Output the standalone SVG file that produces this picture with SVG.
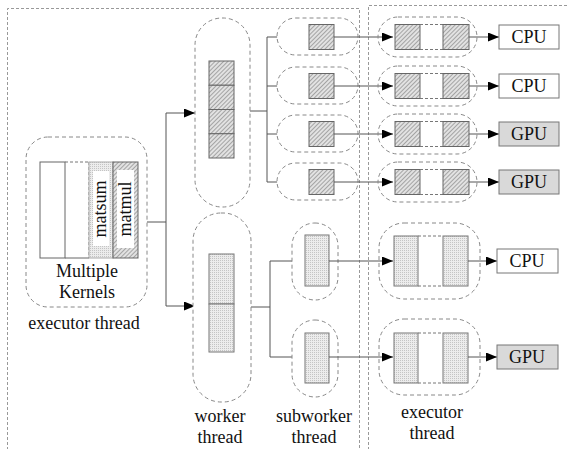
<svg xmlns="http://www.w3.org/2000/svg" width="568" height="449" viewBox="0 0 568 449">
<style>
.frame{fill:none;stroke:#999;stroke-width:1;stroke-dasharray:3,2}
.pill{fill:#fff;stroke:#888;stroke-width:1;stroke-dasharray:4,3}
.hatch{fill:url(#hatch);stroke:#666;stroke-width:1}
.dot{fill:url(#dots);stroke:#777;stroke-width:1}
.plain{fill:#fff;stroke:#666;stroke-width:1}
.dash{fill:none;stroke:#777;stroke-width:1;stroke-dasharray:3,2}
.conn{fill:none;stroke:#555;stroke-width:1}
.arr{marker-end:url(#ah)}
.dev{fill:#fff;stroke:#777;stroke-width:1}
.gpu{fill:#d9d9d9;stroke:#777;stroke-width:1}
text{font-family:'Liberation Serif','DejaVu Serif',serif;font-size:18px;fill:#111}
.c{text-anchor:middle}
</style>
<defs>
<pattern id="hatch" patternUnits="userSpaceOnUse" width="3" height="3" patternTransform="rotate(45)">
<rect width="3" height="3" fill="#e2e2e2"/>
<line x1="0" y1="0" x2="0" y2="3" stroke="#7a7a7a" stroke-width="1.2"/>
</pattern>
<pattern id="dots" patternUnits="userSpaceOnUse" width="2" height="2">
<rect width="2" height="2" fill="#ececec"/>
<rect width="1" height="1" fill="#c4c4c4"/>
</pattern>
<marker id="ah" markerUnits="userSpaceOnUse" markerWidth="12" markerHeight="10" refX="11" refY="4.5" orient="auto">
<path d="M0,0 L11,4.5 L0,9 z" fill="#000"/>
</marker>
</defs>

<g id="frames">
<path class="frame" d="M7.5,460 V8.5 H359.5 V460"/>
<path class="frame" d="M368.5,460 V5.5 H580"/>
</g>

<g id="connectors">
<path class="conn" d="M147,222 H166 M166,113 V306"/>
<path class="conn arr" d="M166,113 H195"/>
<path class="conn arr" d="M166,306 H195"/>
<path class="conn" d="M250,111 H267 M267,37 V182"/>
<path class="conn arr" d="M267,37 H308"/>
<path class="conn arr" d="M267,86 H308"/>
<path class="conn arr" d="M267,134 H308"/>
<path class="conn arr" d="M267,182 H308"/>
<path class="conn" d="M251,307 H270 M270,261 V357"/>
<path class="conn arr" d="M270,261 H304"/>
<path class="conn arr" d="M270,357 H304"/>
</g>

<g id="executor-main" font-family="Liberation Serif, DejaVu Serif, serif">
<rect class="pill" x="26" y="137" width="121" height="170" rx="22"/>
<rect class="plain" x="40" y="162" width="25" height="96"/>
<path class="dash" d="M65,162 H89 M89,162 V258"/>
<path class="conn" d="M65,258 H89" style="stroke:#666"/>
<rect x="89" y="162" width="24" height="96" fill="url(#dots)" stroke="#aaa" stroke-width="1"/>
<rect x="93" y="171" width="16" height="75" fill="#fff"/>
<rect class="hatch" x="113" y="162" width="25" height="96"/>
<rect x="117" y="170" width="17" height="78" fill="#fff"/>
<text class="c" transform="translate(106,209) rotate(-90)">matsum</text>
<text class="c" transform="translate(131,209) rotate(-90)">matmul</text>
<text class="c" x="87" y="277">Multiple</text>
<text class="c" x="87" y="298">Kernels</text>
<text class="c" x="84" y="329">executor thread</text>
</g>

<g id="worker-top">
<rect class="pill" x="195" y="18" width="55" height="189" rx="27"/>
<rect class="hatch" x="209" y="61" width="25" height="24.25"/>
<rect class="hatch" x="209" y="85.25" width="25" height="24.25"/>
<rect class="hatch" x="209" y="109.5" width="25" height="24.25"/>
<rect class="hatch" x="209" y="133.75" width="25" height="24.25"/>
</g>

<g id="worker-bottom" font-family="Liberation Serif, DejaVu Serif, serif">
<rect class="pill" x="193" y="213" width="58" height="189" rx="28"/>
<rect class="dot" x="209" y="254" width="25" height="50"/>
<rect class="dot" x="209" y="304" width="25" height="48"/>
<text class="c" x="220" y="422">worker</text>
<text class="c" x="220" y="443">thread</text>
</g>

<g id="subworker-1">
<rect class="pill" x="277" y="18" width="81" height="37" rx="18.5"/>
<rect class="hatch" x="309" y="24.5" width="25" height="25"/>
</g>
<g id="subworker-2">
<rect class="pill" x="277" y="67" width="81" height="37" rx="18.5"/>
<rect class="hatch" x="309" y="73.5" width="25" height="25"/>
</g>
<g id="subworker-3">
<rect class="pill" x="277" y="115" width="81" height="37" rx="18.5"/>
<rect class="hatch" x="309" y="121.5" width="25" height="25"/>
</g>
<g id="subworker-4">
<rect class="pill" x="277" y="163" width="81" height="37" rx="18.5"/>
<rect class="hatch" x="309" y="169.5" width="25" height="25"/>
</g>
<g id="subworker-5">
<rect class="pill" x="292" y="223" width="46" height="77" rx="23"/>
<rect class="dot" x="305" y="235" width="24" height="51"/>
</g>
<g id="subworker-6" font-family="Liberation Serif, DejaVu Serif, serif">
<rect class="pill" x="292" y="320" width="46" height="77" rx="23"/>
<rect class="dot" x="305" y="333" width="24" height="50"/>
<text class="c" x="314" y="422">subworker</text>
<text class="c" x="314" y="443">thread</text>
</g>

<g id="connectors-2">
<path class="conn arr" d="M334,37 H393"/>
<path class="conn arr" d="M334,86 H393"/>
<path class="conn arr" d="M334,134 H393"/>
<path class="conn arr" d="M334,182 H393"/>
<path class="conn arr" d="M329,261 H393"/>
<path class="conn arr" d="M329,357 H393"/>
</g>

<g id="executor-1">
<rect class="pill" x="378" y="17" width="99" height="40" rx="20" fill-opacity="0"/>
<rect class="hatch" x="395" y="24.5" width="25" height="25"/>
<path class="dash" d="M420,24.5 H443 M420,49.5 H443"/>
<rect class="hatch" x="443" y="24.5" width="26" height="25"/>
</g>
<g id="executor-2">
<rect class="pill" x="378" y="66" width="99" height="40" rx="20" fill-opacity="0"/>
<rect class="hatch" x="395" y="73.5" width="25" height="25"/>
<path class="dash" d="M420,73.5 H443 M420,98.5 H443"/>
<rect class="hatch" x="443" y="73.5" width="26" height="25"/>
</g>
<g id="executor-3">
<rect class="pill" x="378" y="114" width="99" height="40" rx="20" fill-opacity="0"/>
<rect class="hatch" x="395" y="121.5" width="25" height="25"/>
<path class="dash" d="M420,121.5 H443 M420,146.5 H443"/>
<rect class="hatch" x="443" y="121.5" width="26" height="25"/>
</g>
<g id="executor-4">
<rect class="pill" x="378" y="162" width="99" height="40" rx="20" fill-opacity="0"/>
<rect class="hatch" x="395" y="169.5" width="25" height="25"/>
<path class="dash" d="M420,169.5 H443 M420,194.5 H443"/>
<rect class="hatch" x="443" y="169.5" width="26" height="25"/>
</g>
<g id="executor-5">
<rect class="pill" x="379" y="223" width="101" height="76" rx="25" fill-opacity="0"/>
<rect class="dot" x="394" y="236" width="24" height="50"/>
<path class="dash" d="M418,236 H443 M418,286 H443"/>
<rect class="dot" x="443" y="236" width="25" height="50"/>
</g>
<g id="executor-6" font-family="Liberation Serif, DejaVu Serif, serif">
<rect class="pill" x="379" y="319" width="101" height="76" rx="25" fill-opacity="0"/>
<rect class="dot" x="394" y="333" width="24" height="50"/>
<path class="dash" d="M418,333 H443 M418,383 H443"/>
<rect class="dot" x="443" y="333" width="25" height="50"/>
<text class="c" x="432" y="418">executor</text>
<text class="c" x="432" y="439">thread</text>
</g>

<g id="connectors-3">
<path class="conn arr" d="M469,37 H499"/>
<path class="conn arr" d="M469,86 H499"/>
<path class="conn arr" d="M469,134 H499"/>
<path class="conn arr" d="M469,182 H499"/>
<path class="conn arr" d="M468,261 H497"/>
<path class="conn arr" d="M468,357 H497"/>
</g>

<g id="devices" font-family="Liberation Serif, DejaVu Serif, serif">
<g id="cpu-1"><rect class="dev" x="499" y="25" width="60" height="24"/><text class="c" x="529" y="43">CPU</text></g>
<g id="cpu-2"><rect class="dev" x="499" y="74" width="60" height="24"/><text class="c" x="529" y="92">CPU</text></g>
<g id="gpu-1"><rect class="gpu" x="499" y="122" width="60" height="24"/><text class="c" x="529" y="140">GPU</text></g>
<g id="gpu-2"><rect class="gpu" x="499" y="170" width="60" height="24"/><text class="c" x="529" y="188">GPU</text></g>
<g id="cpu-3"><rect class="dev" x="497" y="249" width="61" height="24"/><text class="c" x="527" y="267">CPU</text></g>
<g id="gpu-3"><rect class="gpu" x="497" y="345" width="61" height="24"/><text class="c" x="527" y="363">GPU</text></g>
</g>
</svg>
